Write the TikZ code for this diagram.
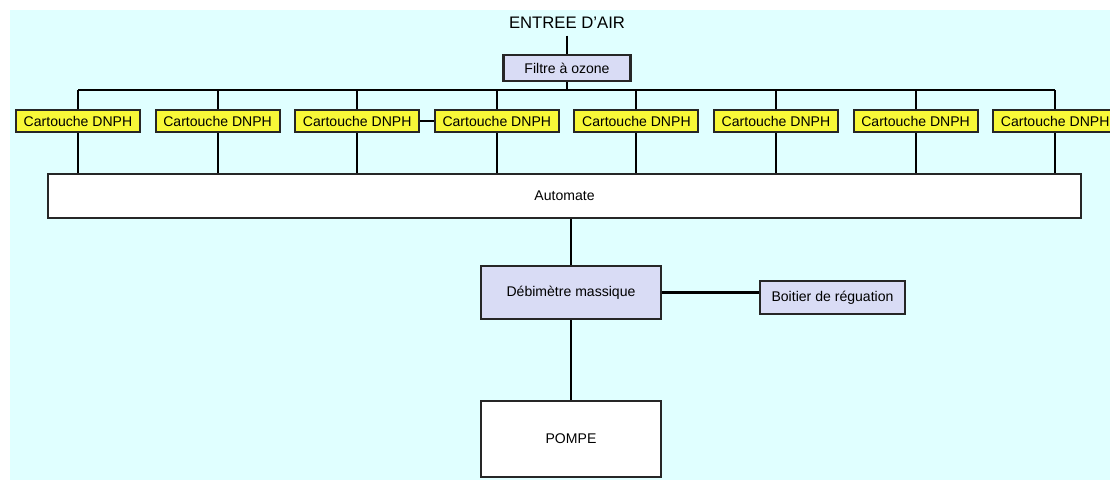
\documentclass[tikz,border=0pt]{standalone}
\usepackage{fontspec}
\setmainfont{Liberation Sans}
\usetikzlibrary{calc,positioning}

\definecolor{fond}{HTML}{E0FFFF}
\definecolor{jaune}{HTML}{F8F838}
\definecolor{lavande}{HTML}{D9DCF5}

\begin{document}
\begin{tikzpicture}[x=0.02cm,y=-0.02cm,line width=1.2pt,
    boite/.style={draw=black!85,line width=1.2pt,inner sep=0pt,font=\fontsize{8}{9.5}\selectfont},
    cartouche/.style={boite,fill=jaune,minimum width=2.48cm,minimum height=0.44cm},
    violet/.style={boite,fill=lavande},
    blanc/.style={boite,fill=white}]
    \useasboundingbox (0,0) rectangle (1110,480);
    \fill [fond] (10,10) rectangle (1110,480);

    \node (air) at (567,23) {\fontsize{9.5}{11}\selectfont ENTREE D'AIR};
    \node [violet,minimum width=2.54cm,minimum height=0.52cm] (filtre) at (567,68) {Filtre à ozone};
    \draw (air) -- (filtre);

    \node [blanc,minimum width=20.66cm,minimum height=0.88cm] (auto) at (564.5,196) {Automate};

    % cartouches DNPH
    \foreach \i in {1,...,8}
        \node [cartouche] (c\i) at ({78+139.6*(\i-1)},121) {Cartouche DNPH};
    \coordinate (bus) at (567,90);
    \draw (filtre) -- (bus);
    \draw (c1.north |- bus) -- (c8.north |- bus);
    \foreach \i in {1,...,8} {
        \draw (c\i.north |- bus) -- (c\i.north);
        \draw (c\i.south) -- (c\i.south |- auto.north);
    }
    \draw (c3) -- (c4);

    \node [violet,minimum width=3.6cm,minimum height=1.06cm] (debit) at (571,292.5) {Débimètre massique};
    \node [violet,minimum width=2.9cm,minimum height=0.66cm] (boitier) at (832.5,297.5) {Boitier de réguation};
    \node [blanc,minimum width=3.6cm,minimum height=1.52cm] (pompe) at (571,439) {POMPE};

    \draw (debit.north |- auto.south) -- (debit);
    \draw (debit.east) -- (debit.east -| boitier.west);
    \draw (debit) -- (pompe);
\end{tikzpicture}
\end{document}
